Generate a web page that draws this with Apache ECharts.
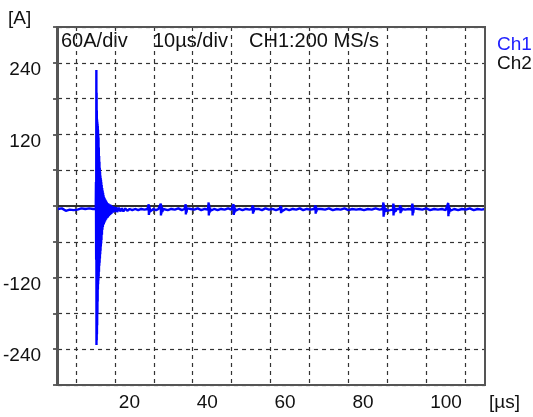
<!DOCTYPE html>
<html>
<head>
<meta charset="utf-8">
<script src="https://cdn.jsdelivr.net/npm/echarts@6/dist/echarts.min.js"></script>
<style>
  html, body { margin: 0; padding: 0; background: #fff; }
  #chart { width: 533px; height: 417px; }
</style>
</head>
<body>
<div id="chart"></div>
<script>
// time axis in µs, current in A
const xTicks = [10, 20, 30, 40, 50, 60, 70, 80, 90, 100, 110]
const xLabels = [20, 40, 60, 80, 100]
const yLabels = [240, 120, -120, -240]

// Ch1 trace
const ch1Time = [
  5.4, 5.9, 6.4, 6.9, 7.4, 7.9, 8.4, 8.9, 9.4, 9.9, 10.4, 10.9, 11.4, 11.9, 12.4, 12.9, 13.4, 13.9, 14.4, 14.9, 15.1,
  15.15, 15.2, 15.25, 15.28, 15.31, 15.34, 15.37, 15.4, 15.43, 15.46, 15.49, 15.52, 15.55, 15.58, 15.61, 15.64, 15.67, 15.7, 15.73, 15.76,
  15.8, 15.84, 15.88, 15.92, 15.96, 16.0, 16.04, 16.08, 16.12, 16.16, 16.2, 16.24, 16.28, 16.32, 16.36, 16.4, 16.44, 16.48, 16.52, 16.56,
  16.62, 16.68, 16.74, 16.8, 16.86, 16.92, 16.98, 17.04, 17.1, 17.16, 17.22, 17.3, 17.38, 17.46, 17.54, 17.62, 17.7, 17.8, 17.9, 18.0,
  18.1, 18.2, 18.35, 18.5, 18.65, 18.8, 18.95, 19.1, 19.3, 19.5, 19.75, 20.0, 20.3, 20.6, 21.0, 21.4, 21.8, 22.2, 22.7, 23.2, 23.8,
  24.5, 25.2, 26.0, 26.8, 27.6, 28.4,
  28.6, 28.7, 28.75, 28.8, 28.85, 28.95, 29.1, 29.3, 29.9, 30.6, 31.2,
  31.7, 31.8, 31.85, 31.9, 31.95, 32.05, 32.2, 32.4, 32.6, 32.8, 33.6, 34.5, 35.4, 36.3, 37.2, 37.9,
  38.1, 38.2, 38.25, 38.3, 38.4, 38.55, 38.7, 39.5, 40.4, 41.3, 42.2, 43.1, 43.9,
  44.0, 44.1, 44.15, 44.2, 44.3, 44.45, 44.6, 45.5, 46.4, 47.3, 48.2, 49.1, 49.9,
  50.4, 50.5, 50.55, 50.6, 50.7, 50.85, 51.0, 51.9, 52.8, 53.7, 54.6, 55.2,
  55.35, 55.45, 55.5, 55.55, 55.65, 55.8, 56.0, 56.9, 57.8, 58.7, 59.6, 60.5, 61.4, 62.3,
  62.55, 62.65, 62.7, 62.75, 62.85, 63.0, 63.9, 64.8, 65.7, 66.6, 67.5, 68.4, 69.3, 70.2, 71.2,
  71.45, 71.55, 71.6, 71.65, 71.75, 71.9, 72.1, 73.0, 74.0, 75.0, 76.0, 77.0, 78.0, 79.0, 80.0,
  81.0, 82.0, 83.0, 84.0, 85.0, 86.0, 87.0, 88.0, 88.8,
  88.9, 89.0, 89.05, 89.1, 89.15, 89.25, 89.4, 89.6, 89.8, 90.2, 90.7, 91.2,
  91.45, 91.55, 91.6, 91.65, 91.75, 91.9, 92.1, 92.4, 92.8, 93.1,
  93.25, 93.35, 93.4, 93.5, 93.6, 93.8, 94.6, 95.5, 96.2,
  96.35, 96.45, 96.5, 96.55, 96.65, 96.8, 97.0, 98.0, 99.0, 100.0, 101.0, 102.0, 103.0, 104.0, 105.0, 105.5,
  105.55, 105.65, 105.7, 105.75, 105.85, 106.0, 106.2, 107.2, 108.2, 109.2, 110.2, 111.2, 112.2, 113.2, 114.2, 115.1
]
const ch1Amp = [
  -5, -7, -4, -6, -8, -5, -6, -4, -7, -5, -6, -8, -4, -6, -5, -7, -4, -6, -5, -7, -5,
  40, -90, 228, -233, 190, -225, 160, -215, 145, -200, 141, -180, 138, -160, 134, -140, 128, -131, 120, -125,
  115, -118, 98, -110, 84, -100, 74, -95, 64, -88, 57, -81, 51, -75, 47, -68, 44, -63, 40, -57,
  35, -48, 30, -40, 26, -35, 22, -32, 18, -30, 15, -28, 13, -26, 11, -24, 9, -22, 7, -20,
  5, -19, 4, -17, 3, -15, 2, -13, 0, -11, -1, -10, -2, -10, -3, -9, -4, -9, -4, -8, -5,
  -7, -5, -7, -5, -6, -5,
  -6, 3, -15, 1, -12, -3, -9, -6, -5, -7, -5,
  -6, 4, -16, 2, -13, -2, -10, -5, -8, -5, -7, -5, -6, -4, -7, -5,
  -6, 3, -14, 0, -11, -4, -7, -5, -6, -4, -7, -5, -6,
  -5, 6, -16, 3, -12, -3, -8, -5, -7, -5, -6, -4, -6,
  -6, 3, -15, 1, -12, -3, -8, -5, -7, -5, -6, -5,
  -6, 1, -13, -1, -10, -5, -8, -5, -7, -4, -6, -5, -7, -5,
  -6, 0, -12, -2, -9, -6, -5, -7, -5, -6, -4, -7, -5, -6, -5,
  -6, 1, -13, -1, -10, -5, -7, -5, -6, -4, -7, -5, -6, -4, -7,
  -5, -6, -5, -7, -5, -6, -4, -6, -5,
  -6, 6, -18, 3, -15, 0, -10, -4, -8, -5, -7, -5,
  -6, 4, -16, 2, -12, -3, -9, -5, -7, -5,
  -6, 1, -12, -2, -9, -5, -6, -5, -6,
  -6, 4, -16, 1, -12, -4, -7, -5, -6, -4, -7, -5, -6, -5, -7, -5,
  -6, 5, -17, 2, -13, -3, -8, -5, -7, -5, -6, -4, -7, -5, -6, -5
]

// Ch2 trace: flat
const ch2Time = [5.4, 115.1]
const ch2Amp = [0, 0]

const chart = echarts.init(document.getElementById('chart'))

const zip = (xs, ys) => xs.map((x, i) => [x, ys[i]])

const font = 'Liberation Sans, Arial, sans-serif'
const gridDash = { color: '#333', width: 1.2, type: [4, 4] }

const option = {
  animation: false,
  backgroundColor: '#fff',
  grid: { left: 57, right: 48, top: 27, bottom: 32, show: false },
  legend: {
    orient: 'vertical',
    left: 492,
    top: 30,
    icon: 'none',
    itemWidth: 0,
    itemHeight: 10,
    itemGap: 0,
    selectedMode: false,
    data: [
      { name: 'Ch1', textStyle: { color: '#1f1fff' } },
      { name: 'Ch2', textStyle: { color: '#111' } }
    ],
    textStyle: { fontFamily: font, fontSize: 19, padding: [0, 0, 0, -5] }
  },
  xAxis: {
    type: 'value',
    min: 5.4,
    max: 115.1,
    axisLine: { show: true, lineStyle: { color: '#555', width: 2 } },
    axisTick: {
      show: true,
      customValues: xTicks,
      length: 8,
      lineStyle: { color: '#333', width: 1.5 }
    },
    axisLabel: {
      customValues: xLabels,
      align: 'left',
      margin: 8,
      padding: [0, 0, 0, 4],
      color: '#111',
      fontFamily: font,
      fontSize: 19
    },
    splitLine: { show: true, customValues: xTicks, lineStyle: gridDash }
  },
  yAxis: {
    type: 'value',
    min: -300,
    max: 300,
    interval: 60,
    axisLine: { show: true, lineStyle: { color: '#555', width: 2 } },
    axisTick: { show: true, length: 5, lineStyle: { color: '#333', width: 1.5 } },
    axisLabel: {
      margin: 17,
      verticalAlign: 'top',
      lineHeight: 14,
      color: '#111',
      fontFamily: font,
      fontSize: 19,
      formatter: (v) => (yLabels.indexOf(v) >= 0 ? String(v) : '')
    },
    splitLine: { show: true, lineStyle: gridDash }
  },
  graphic: [
    {
      type: 'rect',
      silent: true,
      shape: { x: 57, y: 27, width: 428, height: 358 },
      style: { fill: 'none', stroke: '#555', lineWidth: 2 },
      z: 10
    },
    {
      type: 'text', left: 8, top: 9,
      style: { text: '[A]', fontFamily: font, fontSize: 19, fill: '#111' }
    },
    {
      type: 'text', left: 489, top: 393,
      style: { text: '[µs]', fontFamily: font, fontSize: 19, fill: '#111' }
    },
    {
      type: 'text', left: 61, top: 31,
      style: { text: '60A/div', fontFamily: font, fontSize: 20, fill: '#111' }
    },
    {
      type: 'text', left: 153, top: 31,
      style: { text: '10µs/div', fontFamily: font, fontSize: 20, fill: '#111' }
    },
    {
      type: 'text', left: 249, top: 31,
      style: { text: 'CH1:200 MS/s', fontFamily: font, fontSize: 20, fill: '#111' }
    }
  ],
  series: [
    {
      name: 'Ch2',
      type: 'line',
      symbol: 'none',
      data: zip(ch2Time, ch2Amp),
      lineStyle: { color: '#222', width: 1.5 },
      itemStyle: { color: '#111' },
      z: 2
    },
    {
      name: 'Ch1',
      type: 'line',
      symbol: 'none',
      sampling: null,
      data: zip(ch1Time, ch1Amp),
      lineStyle: { color: '#0000ff', width: 2.4 },
      itemStyle: { color: '#0000ff' },
      z: 3
    }
  ]
}

chart.setOption(option)
</script>
</body>
</html>
